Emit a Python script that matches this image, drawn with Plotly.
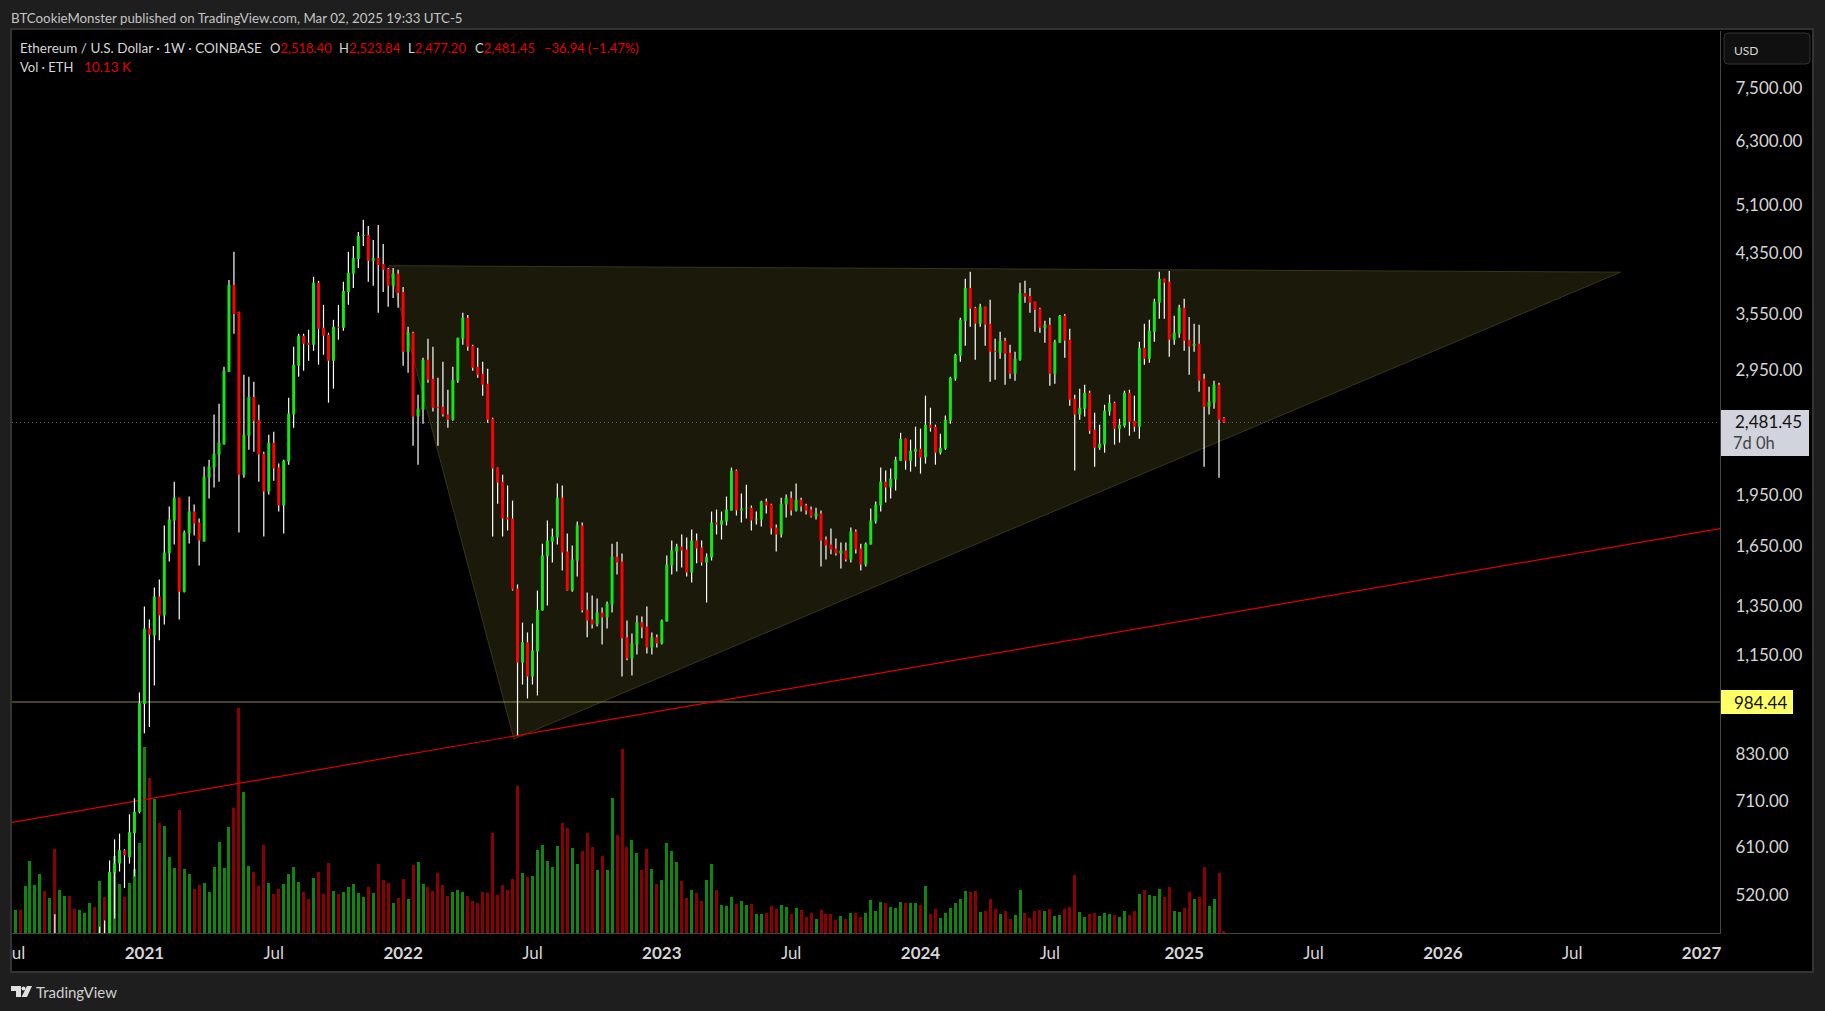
import pandas as pd
import plotly.graph_objects as go

W, H = 1825, 1011
LEFT, RIGHT, TOP, BOTTOM = 12, 1720, 31, 933
FONT = "Lato"

# weekly bars, oldest first (last one is the week of 2025-03-03)
open_ = [
    225, 229, 240, 235, 321, 385, 395, 433, 390, 428,
    355, 375, 380, 355, 345, 370, 380, 405, 385, 450,
    442, 560, 577, 603, 589, 638, 684, 978, 1255, 1227,
    1395, 1310, 1610, 1794, 1935, 1418, 1719, 1848, 1782, 1674,
    2067, 2137, 2230, 2306, 2934, 3911, 3577, 2088, 2375, 2700,
    2504, 2238, 1975, 2321, 2137, 1885, 2180, 2547, 2993, 3305,
    3230, 3208, 3937, 3394, 3316, 3043, 3405, 3394, 3821, 4056,
    4262, 4598, 4614, 4234, 4276, 4192, 4123, 3898, 4056, 3821,
    3135, 3338, 2530, 2588, 3053, 2867, 2614, 2614, 2547, 2504,
    2848, 3273, 3508, 3198, 2983, 2915, 2820, 2512, 2137, 2040,
    1812, 1806, 1433, 1122, 1199, 1071, 1163, 1332, 1594, 1673,
    1696, 1935, 1619, 1423, 1572, 1765, 1336, 1293, 1272, 1323,
    1302, 1359, 1592, 1567, 1219, 1137, 1191, 1281, 1264, 1179,
    1219, 1195, 1285, 1546, 1619, 1646, 1630, 1511, 1679, 1641,
    1562, 1587, 1782, 1770, 1788, 1854, 2116, 1854, 1866, 1872,
    1800, 1800, 1910, 1891, 1753, 1713, 1891, 1935, 1854, 1922,
    1885, 1860, 1818, 1836, 1685, 1657, 1635, 1609, 1625, 1577,
    1730, 1635, 1551, 1657, 1788, 1885, 2040, 2001, 2054, 2187,
    2352, 2187, 2253, 2275, 2209, 2463, 2447, 2245, 2275, 2496,
    2867, 3094, 3473, 3872, 3625, 3439, 3637, 3439, 3145, 3124,
    3251, 3124, 2915, 3053, 3808, 3771, 3698, 3613, 3394, 3428,
    2915, 3230, 3530, 3262, 2684, 2547, 2597, 2738, 2423, 2282,
    2306, 2572, 2649, 2431, 2455, 2738, 2496, 2447, 3176, 3063,
    3349, 3686, 3990, 3950, 3262, 3327, 3625, 3262, 3198, 3219,
    2867, 2614, 2649, 2811, 2518.40,
]
high = [
    233, 250, 245, 325, 415, 410, 445, 445, 445, 488,
    390, 395, 390, 380, 385, 395, 420, 420, 468, 478,
    583, 625, 637, 605, 679, 716, 1016, 1350, 1293, 1437,
    1476, 1765, 1879, 2040, 1935, 1736, 1942, 1891, 1806, 2144,
    2194, 2547, 2640, 2983, 3976, 4362, 3577, 2905, 2885, 2839,
    2631, 2253, 2383, 2407, 2166, 2194, 2692, 3187, 3327, 3327,
    3371, 4016, 3963, 3661, 3338, 3484, 3661, 3950, 4362, 4449,
    4660, 4849, 4753, 4538, 4769, 4478, 4137, 4137, 4110, 3885,
    3405, 3349, 2720, 3073, 3273, 3187, 2876, 3033, 2765, 2983,
    3284, 3565, 3541, 3208, 3176, 3033, 2963, 2521, 2137, 2088,
    2014, 1916, 1452, 1280, 1239, 1276, 1423, 1662, 1794, 1747,
    2027, 2014, 1719, 1652, 1788, 1782, 1414, 1400, 1386, 1345,
    1372, 1662, 1673, 1609, 1289, 1235, 1310, 1306, 1350, 1239,
    1231, 1293, 1598, 1679, 1662, 1713, 1696, 1742, 1719, 1679,
    1609, 1848, 1860, 1848, 1942, 2137, 2123, 1961, 2020, 1885,
    1848, 1916, 1929, 1897, 1770, 1935, 1955, 1974, 2027, 1935,
    1897, 1879, 1872, 1854, 1702, 1747, 1690, 1668, 1668, 1753,
    1742, 1662, 1668, 1866, 1910, 2137, 2116, 2130, 2216, 2399,
    2352, 2344, 2447, 2431, 2711, 2605, 2463, 2391, 2538, 2886,
    3114, 3508, 3990, 4083, 3637, 3673, 3637, 3722, 3273, 3349,
    3284, 3208, 3135, 3937, 3963, 3872, 3698, 3625, 3473, 3508,
    3262, 3541, 3553, 3383, 2720, 2774, 2811, 2756, 2563, 2463,
    2631, 2720, 2658, 2512, 2756, 2765, 2711, 3241, 3439, 3484,
    3734, 4083, 3990, 4096, 3530, 3661, 3734, 3518, 3439, 3428,
    2915, 2793, 2848, 2829, 2523.84,
]
low = [
    218, 228, 228, 233, 300, 360, 370, 375, 365, 305,
    325, 355, 310, 330, 335, 360, 370, 370, 370, 440,
    440, 481, 562, 532, 577, 553, 681, 888, 906, 1040,
    1207, 1272, 1567, 1657, 1293, 1414, 1663, 1707, 1546, 1674,
    1929, 2001, 2040, 2306, 2934, 3327, 1725, 2067, 2268, 2253,
    2040, 1701, 1955, 2047, 1848, 1719, 2158, 2439, 2886, 2944,
    3043, 3145, 3003, 3104, 2649, 2774, 3262, 3360, 3661, 3872,
    4137, 4449, 3950, 3898, 3565, 3821, 3637, 3746, 3625, 2993,
    2925, 2298, 2158, 2471, 2829, 2572, 2298, 2530, 2439, 2496,
    2829, 3208, 3145, 2944, 2876, 2711, 2479, 1702, 1897, 1702,
    1736, 1423, 882, 1043, 996, 1043, 1006, 1332, 1354, 1562,
    1657, 1521, 1423, 1418, 1491, 1323, 1219, 1255, 1264, 1191,
    1255, 1323, 1501, 1071, 1130, 1075, 1152, 1215, 1156, 1152,
    1179, 1191, 1285, 1501, 1516, 1536, 1491, 1461, 1557, 1546,
    1368, 1572, 1713, 1685, 1765, 1854, 1824, 1782, 1806, 1736,
    1770, 1759, 1836, 1713, 1619, 1696, 1812, 1824, 1848, 1848,
    1830, 1812, 1800, 1541, 1577, 1604, 1598, 1531, 1567, 1562,
    1609, 1521, 1541, 1657, 1776, 1848, 1904, 1929, 1981, 2187,
    2123, 2109, 2144, 2095, 2166, 2407, 2158, 2231, 2268, 2471,
    2848, 3033, 3198, 3405, 3053, 3405, 3198, 2839, 2857, 3063,
    2811, 2867, 2848, 3043, 3686, 3565, 3349, 3338, 3230, 2802,
    2820, 3230, 3073, 2623, 2116, 2504, 2530, 2391, 2144, 2268,
    2245, 2538, 2306, 2321, 2439, 2375, 2407, 2352, 3003, 3023,
    3241, 3496, 3496, 3083, 3208, 3284, 3145, 2906, 3135, 2747,
    2144, 2547, 2597, 2067, 2477.20,
]
close = [
    229, 240, 235, 321, 385, 395, 433, 390, 428, 355,
    375, 380, 355, 345, 370, 380, 405, 385, 450, 442,
    561, 577, 603, 593, 640, 685, 980, 1255, 1231, 1395,
    1310, 1614, 1800, 1935, 1418, 1724, 1848, 1776, 1679, 2074,
    2144, 2238, 2321, 2944, 3911, 3553, 2088, 2383, 2700, 2496,
    2231, 1975, 2321, 2130, 1885, 2187, 2555, 3003, 3305, 3219,
    3208, 3937, 3383, 3305, 3043, 3405, 3394, 3834, 4069, 4276,
    4598, 4614, 4234, 4276, 4178, 4110, 3898, 4056, 3808, 3135,
    3338, 2530, 2597, 3053, 2857, 2605, 2605, 2547, 2504, 2857,
    3284, 3508, 3187, 2973, 2906, 2811, 2504, 2130, 2034, 1806,
    1800, 1428, 1122, 1199, 1071, 1167, 1336, 1598, 1679, 1702,
    1935, 1614, 1423, 1577, 1765, 1332, 1289, 1272, 1323, 1302,
    1363, 1592, 1562, 1215, 1137, 1195, 1281, 1259, 1179, 1219,
    1195, 1289, 1551, 1625, 1646, 1625, 1511, 1679, 1635, 1562,
    1592, 1782, 1770, 1794, 1860, 2116, 1854, 1866, 1872, 1794,
    1806, 1910, 1885, 1747, 1713, 1897, 1935, 1854, 1922, 1879,
    1854, 1818, 1836, 1679, 1652, 1630, 1609, 1625, 1577, 1730,
    1630, 1551, 1662, 1794, 1891, 2040, 2001, 2060, 2194, 2352,
    2187, 2260, 2275, 2209, 2463, 2439, 2245, 2282, 2504, 2876,
    3104, 3484, 3872, 3613, 3439, 3637, 3428, 3135, 3135, 3251,
    3114, 2915, 3063, 3808, 3759, 3686, 3601, 3394, 3428, 2915,
    3241, 3530, 3251, 2675, 2547, 2605, 2738, 2415, 2282, 2313,
    2580, 2649, 2431, 2463, 2738, 2488, 2447, 3176, 3063, 3360,
    3698, 3990, 3937, 3262, 3338, 3625, 3251, 3187, 3219, 2848,
    2614, 2658, 2811, 2504, 2481.45,
]
# volume in thousands of ETH
volume = [
    137.5, 175, 175, 355, 542.5, 362.5, 445, 317.5, 265, 632.5,
    325, 280, 280, 182.5, 175, 152.5, 227.5, 197.5, 392.5, 272.5,
    460, 580, 370, 272.5, 377.5, 482.5, 677.5, 1397.5, 1165, 1007.5,
    827.5, 805, 572.5, 490, 925, 482.5, 445, 332.5, 362.5, 377.5,
    310, 497.5, 685, 490, 797.5, 940, 1690, 1060, 505, 460,
    355, 662.5, 377.5, 295, 332.5, 370, 445, 497.5, 385, 310,
    257.5, 415, 460, 295, 527.5, 317.5, 295, 310, 347.5, 370,
    302.5, 272.5, 347.5, 302.5, 520, 400, 377.5, 227.5, 265, 407.5,
    257.5, 512.5, 535, 370, 347.5, 317.5, 452.5, 362.5, 280, 310,
    325, 310, 280, 242.5, 227.5, 310, 302.5, 752.5, 287.5, 362.5,
    325, 407.5, 1105, 452.5, 422.5, 430, 625, 662.5, 542.5, 497.5,
    655, 827.5, 790, 640, 520, 617.5, 752.5, 647.5, 475, 580,
    475, 1015, 737.5, 1382.5, 647.5, 700, 602.5, 475, 632.5,
    482.5, 370, 400, 677.5, 617.5, 535, 392.5, 265, 325, 302.5,
    242.5, 400, 520, 325, 212.5, 205, 272.5, 220, 242.5, 212.5,
    220, 145, 145, 152.5, 205, 182.5, 212.5, 197.5, 145, 190,
    175, 122.5, 152.5, 107.5, 175, 145, 145, 100, 130, 107.5,
    152.5, 152.5, 122.5, 152.5, 250, 167.5, 235, 227.5, 197.5, 190,
    235, 227.5, 227.5, 227.5, 212.5, 355, 145, 182.5, 115, 152.5,
    190, 227.5, 257.5, 317.5, 310, 317.5, 160, 167.5, 257.5, 182.5,
    145, 167.5, 107.5, 137.5, 325, 152.5, 115, 167.5, 175, 167.5,
    182.5, 130, 137.5, 182.5, 197.5, 437.5, 160, 122.5, 145, 152.5,
    130, 152.5, 145, 137.5, 122.5, 167.5, 137.5, 167.5, 295, 325,
    287.5, 280, 332.5, 272.5, 347.5, 167.5, 160, 190, 310, 257.5,
    272.5, 497.5, 205, 257.5, 452.5, 10.13,
]

price_ticks = [7500, 6300, 5100, 4350, 3550, 2950, 1950, 1650, 1350, 1150, 830, 710, 610, 520]
time_ticks = ["2020-07-06", "2021-01-04", "2021-07-05", "2022-01-03", "2022-07-04", "2023-01-02",
              "2023-07-03", "2024-01-01", "2024-07-01", "2025-01-06", "2025-07-07", "2026-01-05",
              "2026-07-06", "2027-01-04"]
time_labels = ["Jul", "<b>2021</b>", "Jul", "<b>2022</b>", "Jul", "<b>2023</b>", "Jul", "<b>2024</b>",
               "Jul", "<b>2025</b>", "Jul", "<b>2026</b>", "Jul", "<b>2027</b>"]

last_price = 2481.45
level_price = 984.44
view_start, view_end = "2020-07-01 17:00", "2027-01-29 22:00"
# drawings on the chart
wedge_dates = ["2021-12-14", "2026-09-12", "2022-06-07 22:00", "2021-12-14"]
wedge_prices = [4167, 4079, 871, 4167]
trend_prices = [661, 1747]

GREEN, RED = "#14e614", "#ff0000"
VOL_GREEN, VOL_RED = "#0f860f", "#8b0000"
TEXT = "#d6d6d6"
PRICE_RANGE = [2.6614, 3.9569]

assert len(open_) == len(high) == len(low) == len(close) == len(volume)
dates = pd.date_range(end="2025-03-03", periods=len(close), freq="7D")


def px(x):
    return (x - LEFT) / (RIGHT - LEFT)


def py(y):
    return (BOTTOM - y) / (BOTTOM - TOP)


fig = go.Figure()

fig.add_trace(go.Bar(x=dates, y=volume, width=3.65e8, yaxis="y",
                     marker=dict(color=[VOL_GREEN if c >= o else VOL_RED for o, c in zip(open_, close)], line_width=0)))

fig.add_trace(go.Scatter(x=wedge_dates, y=wedge_prices, yaxis="y2", mode="lines", fill="toself",
                         fillcolor="rgba(100,92,38,0.27)", line=dict(color="#3a3614", width=1)))
fig.add_trace(go.Scatter(x=[view_start, view_end], y=[last_price, last_price], yaxis="y2", mode="lines",
                         line=dict(color="#666666", width=1, dash="1px,3px")))
fig.add_trace(go.Scatter(x=[view_start, view_end], y=[level_price, level_price], yaxis="y2", mode="lines",
                         line=dict(color="#8c8c46", width=1)))
fig.add_trace(go.Scatter(x=[view_start, view_end], y=trend_prices, yaxis="y2", mode="lines",
                         line=dict(color="#dc0000", width=1.2)))

# wicks are white and the bodies are not, and scatter draws above candlestick on one axis,
# so wicks and bodies each get an overlaying axis of their own
wick_x, wick_y = [], []
for d, h, l in zip(dates, high, low):
    wick_x += [d, d, None]
    wick_y += [h, l, None]
fig.add_trace(go.Scatter(x=wick_x, y=wick_y, yaxis="y3", mode="lines", line=dict(color="#ffffff", width=1.2)))

fig.add_trace(go.Candlestick(x=dates, open=open_, high=high, low=low, close=close, yaxis="y4", whiskerwidth=0,
                             increasing=dict(fillcolor=GREEN, line=dict(color=GREEN, width=0)),
                             decreasing=dict(fillcolor=RED, line=dict(color=RED, width=0))))

shapes = [
    dict(type="rect", xref="paper", yref="paper", x0=px(11), x1=px(1813), y0=py(972), y1=py(29),
         fillcolor="#000000", line=dict(color="#333333", width=2), layer="below"),
    # "Jul" at the left is cut by the edge of the chart
    dict(type="rect", xref="paper", yref="paper", x0=px(0), x1=px(11), y0=py(971), y1=py(934),
         fillcolor="#1e1e1e", line_width=0),
    dict(type="line", xref="paper", yref="paper", x0=px(11), x1=px(11), y0=py(972), y1=py(29),
         line=dict(color="#333333", width=2)),
    # USD button
    dict(type="path", xref="paper", yref="paper", layer="above", fillcolor="#101010", line=dict(color="#333333", width=1),
         path=f"M{px(1728)},{py(33)} L{px(1806)},{py(33)} Q{px(1810)},{py(33)} {px(1810)},{py(37)} "
              f"L{px(1810)},{py(60)} Q{px(1810)},{py(64)} {px(1806)},{py(64)} L{px(1728)},{py(64)} "
              f"Q{px(1724)},{py(64)} {px(1724)},{py(60)} L{px(1724)},{py(37)} Q{px(1724)},{py(33)} {px(1728)},{py(33)} Z"),
    # last price and level boxes
    dict(type="rect", xref="paper", yref="paper", x0=px(1721), x1=px(1809), y0=py(456), y1=py(410),
         fillcolor="#d1d4dc", line_width=0),
    dict(type="rect", xref="paper", yref="paper", x0=px(1721), x1=px(1793), y0=py(714), y1=py(690),
         fillcolor="#ffff66", line_width=0),
    # TradingView logo
    dict(type="path", xref="paper", yref="paper", fillcolor="#e0e0e0", line_width=0,
         path=f"M{px(11)},{py(986)} L{px(21)},{py(986)} L{px(21)},{py(997)} L{px(16)},{py(997)} L{px(16)},{py(991)} L{px(11)},{py(991)} Z"),
    dict(type="circle", xref="paper", yref="paper", fillcolor="#e0e0e0", line_width=0,
         x0=px(21.5), x1=px(25.5), y0=py(990.5), y1=py(986.5)),
    dict(type="path", xref="paper", yref="paper", fillcolor="#e0e0e0", line_width=0,
         path=f"M{px(27)},{py(986)} L{px(32)},{py(986)} L{px(27)},{py(997)} L{px(21.5)},{py(997)} Z"),
]


def label(x, y, text, size=13, color=TEXT, anchor="left"):
    return dict(xref="paper", yref="paper", x=px(x), y=py(y), text=text, showarrow=False, xanchor=anchor,
                yanchor="middle", align=anchor, font=dict(family=FONT, size=size, color=color),
                borderpad=0, borderwidth=0)


def red(text):
    return f'<span style="color:#e00000">{text}</span>'


annotations = [
    label(11, 18, "BTCookieMonster published on TradingView.com, Mar 02, 2025 19:33 UTC-5", size=13.3, color="#c4c4c4"),
    label(20, 48, "Ethereum / U.S. Dollar · 1W · COINBASE", size=13.5),
    label(270, 48, "O" + red("2,518.40")),
    label(339, 48, "H" + red("2,523.84")),
    label(408, 48, "L" + red("2,477.20")),
    label(475, 48, "C" + red("2,481.45")),
    label(544, 48, red("−36.94 (−1.47%)")),
    label(20, 67, "Vol · ETH"),
    label(84, 67, red("10.13 K"), size=13.5),
    label(1734, 50, "USD", size=12),
    label(1802, 421, "2,481.45", size=17, color="#111111", anchor="right"),
    label(1733, 443, "7d 0h", size=16.5, color="#444444"),
    label(1787, 702, "984.44", size=17, color="#111111", anchor="right"),
    label(36, 992, "TradingView", size=15, color="#d0d0d0"),
]

hidden_price_axis = dict(type="log", range=PRICE_RANGE, overlaying="y", side="right", visible=False, fixedrange=True)

fig.update_layout(
    template="none",
    width=W, height=H,
    margin=dict(l=LEFT, r=W - RIGHT, t=TOP, b=H - BOTTOM, pad=0),
    paper_bgcolor="#1e1e1e", plot_bgcolor="#000000",
    showlegend=False, hovermode=False, dragmode=False,
    bargap=0, boxgap=0.4, boxgroupgap=0,
    xaxis=dict(type="date", range=[view_start, view_end], tickmode="array", tickvals=time_ticks, ticktext=time_labels,
               showgrid=False, zeroline=False, showline=True, linecolor="#444444", linewidth=1, ticks="outside",
               ticklen=5, tickcolor="rgba(0,0,0,0)", tickangle=0, tickfont=dict(family=FONT, size=17, color=TEXT),
               rangeslider=dict(visible=False), fixedrange=True, automargin=False),
    yaxis=dict(range=[0, 6765], visible=False, fixedrange=True),
    yaxis2=dict(type="log", range=PRICE_RANGE, overlaying="y", side="right", tickmode="array",
                tickvals=price_ticks, ticktext=[f"{v:,.2f}" for v in price_ticks], showgrid=False, zeroline=False,
                showline=True, linecolor="#444444", linewidth=1, ticks="outside", ticklen=11,
                tickcolor="rgba(0,0,0,0)", tickfont=dict(family=FONT, size=17, color=TEXT), fixedrange=True,
                automargin=False),
    yaxis3=hidden_price_axis,
    yaxis4=hidden_price_axis,
    shapes=shapes, annotations=annotations,
)

fig.write_html("out.html", config=dict(displayModeBar=False), post_script="document.body.style.margin='0';")
